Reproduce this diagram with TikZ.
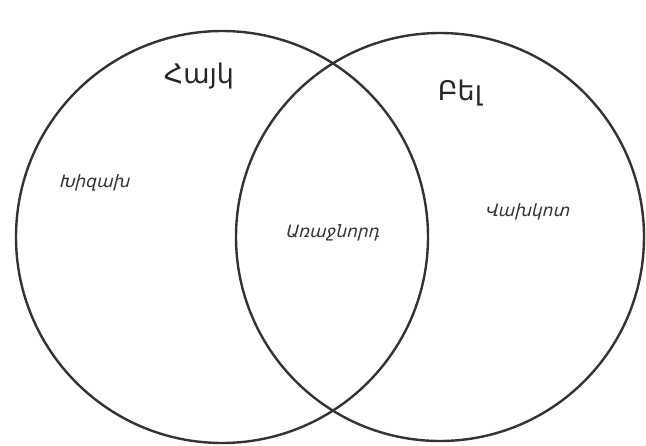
\documentclass[tikz,border=0pt]{standalone}
\usepackage{fontspec}
\newfontfamily\armfont{DejaVu Sans}
\newfontfamily\armslant{DejaVu Sans}[FakeSlant=0.25]
\begin{document}
\begin{tikzpicture}[x=1pt,y=-1pt,
  ring/.style={draw=black!80,line width=2.4pt},
  bigname/.style={font=\armfont\fontsize{27}{30}\selectfont,text=black!85,inner sep=0pt},
  trait/.style={font=\armslant\fontsize{17}{19}\selectfont,text=black!80,inner sep=0pt}]
\useasboundingbox (0,0) rectangle (646,445);
\fill[white] (0,0) rectangle (646,445);
\node[ring,circle,minimum size=412pt,inner sep=0pt] (hayk) at (222,237) {};
\node[ring,circle,minimum size=408pt,inner sep=0pt] (bel) at (440,237) {};
\node[bigname] (t1) at (199,76) {Հայկ};
\node[bigname] (t2) at (460,93) {Բել};
\node[trait] (a) at (94,183) {Խիզախ};
\node[trait] (b) at (332,233) {Առաջնորդ};
\node[trait] (c) at (527,212) {Վախկոտ};
\end{tikzpicture}
\end{document}
